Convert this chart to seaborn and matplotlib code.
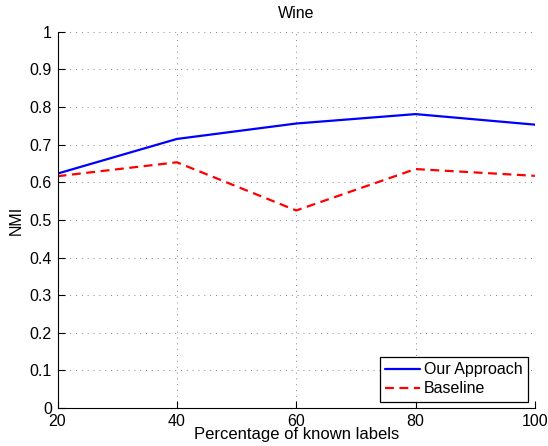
import pandas as pd
import numpy as np
import seaborn as sns
import matplotlib.pyplot as plt

# data
pct_known = [20, 40, 60, 80, 100]
nmi_ours = [0.623, 0.715, 0.756, 0.781, 0.753]
nmi_base = [0.616, 0.653, 0.525, 0.635, 0.617]
ytick_labels = ['0', '0.1', '0.2', '0.3', '0.4', '0.5', '0.6', '0.7', '0.8', '0.9', '1']

df = pd.DataFrame({
    'pct': pct_known * 2,
    'nmi': nmi_ours + nmi_base,
    'method': ['Our Approach'] * 5 + ['Baseline'] * 5,
})

sns.set_style('white')
plt.rcParams['font.family'] = ['Liberation Sans', 'DejaVu Sans']
plt.rcParams['text.color'] = 'black'
plt.rcParams['axes.labelcolor'] = 'black'
fs = 11.5

fig = plt.figure(figsize=(5.48, 4.46), dpi=100)
ax = fig.add_axes([0.105, 0.085, 0.871, 0.844])

sns.lineplot(data=df, x='pct', y='nmi', hue='method', style='method',
             palette={'Our Approach': '#0000ff', 'Baseline': '#ff0000'},
             dashes={'Our Approach': '', 'Baseline': (4, 2.5)},
             linewidth=1.6, ax=ax)

ax.set_xlim(20, 100)
ax.set_ylim(0, 1)
ax.set_xticks(pct_known)
ax.set_yticks(np.round(np.arange(0, 1.01, 0.1), 1))
ax.set_yticklabels(ytick_labels)
ax.grid(True, linestyle=(0, (1, 5)), color='#888888', linewidth=0.7)
for s in ['top', 'right']:
    ax.spines[s].set_visible(False)
for s in ['left', 'bottom']:
    ax.spines[s].set_color('black')
    ax.spines[s].set_linewidth(0.8)
ax.tick_params(direction='in', length=5, width=0.8, colors='black', labelsize=fs,
               bottom=True, left=True, pad=4)

ax.set_title('Wine', fontsize=fs, pad=10, color='black')
ax.set_xlabel('Percentage of known labels', fontsize=12, labelpad=-1)
ax.set_ylabel('NMI', fontsize=fs, labelpad=4)

leg = ax.legend(loc='lower right', frameon=True, fancybox=False, fontsize=fs,
                borderaxespad=0.4, handlelength=2.2, handletextpad=0.25,
                borderpad=0.35, labelspacing=0.25)
leg.get_frame().set_edgecolor('black')
leg.get_frame().set_linewidth(0.9)
leg.get_frame().set_alpha(1)

fig.savefig('out.png', dpi=100)
